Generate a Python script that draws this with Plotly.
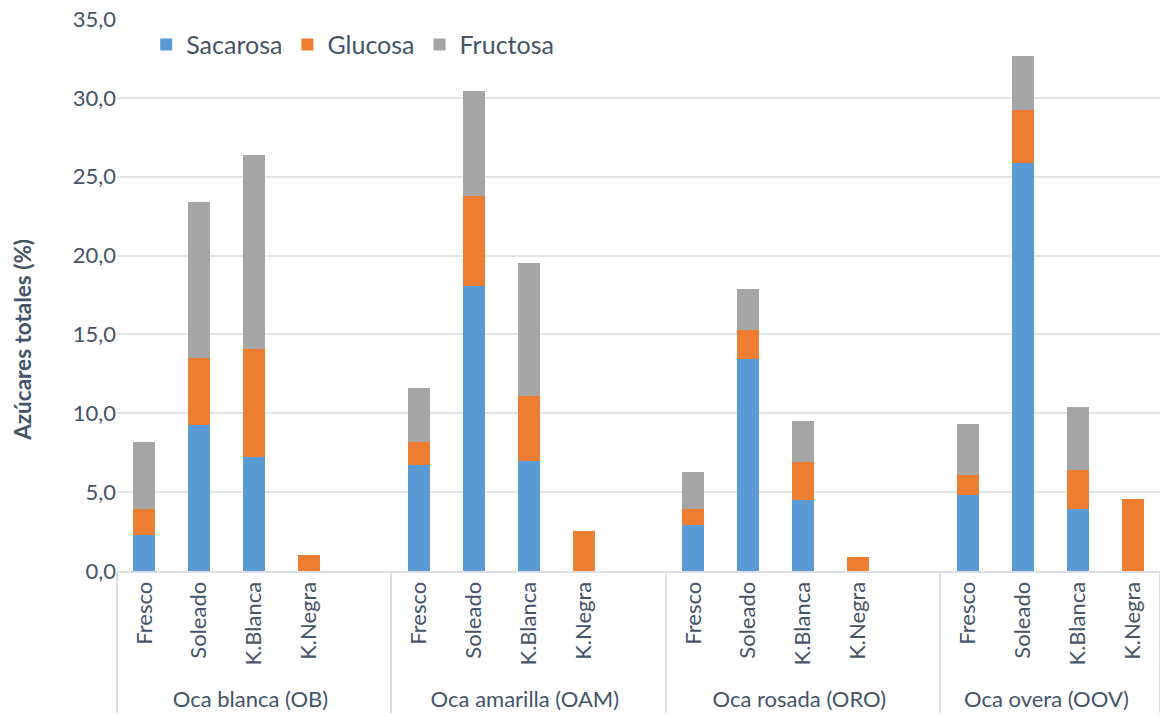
import plotly.graph_objects as go

# Variedades de oca y tratamientos
groups = ["Oca blanca (OB)", "Oca amarilla (OAM)", "Oca rosada (ORO)", "Oca overa (OOV)"]
treatments = ["Fresco", "Soleado", "K.Blanca", "K.Negra"]

# Azúcares (%) por variedad, en el orden de los tratamientos
sacarosa = [
    [2.3, 9.25, 7.2, 0.0],
    [6.7, 18.1, 7.0, 0.0],
    [2.9, 13.45, 4.5, 0.0],
    [4.8, 25.85, 3.9, 0.0],
]
glucosa = [
    [1.6, 4.25, 6.9, 1.0],
    [1.5, 5.7, 4.1, 2.55],
    [1.0, 1.8, 2.4, 0.9],
    [1.3, 3.4, 2.5, 4.55],
]
fructosa = [
    [4.25, 9.9, 12.3, 0.0],
    [3.4, 6.65, 8.4, 0.0],
    [2.4, 2.6, 2.6, 0.0],
    [3.2, 3.4, 4.0, 0.0],
]

y_ticks = [0, 5, 10, 15, 20, 25, 30, 35]

# Construcción del eje multicategoría (hueco vacío entre variedades)
x_outer, x_inner = [], []
def flatten(series):
    out = []
    for gi, g in enumerate(groups):
        for ti, t in enumerate(treatments):
            v = series[gi][ti]
            out.append(v if v > 0 else None)
        if gi < len(groups) - 1:
            out.append(None)
    return out

for gi, g in enumerate(groups):
    for t in treatments:
        x_outer.append(g)
        x_inner.append(t)
    if gi < len(groups) - 1:
        x_outer.append(g)
        x_inner.append(" ")

FONT = "Lato"
TXT = "#44546A"

fig = go.Figure()
for name, data, color in [
    ("Sacarosa", sacarosa, "#5B9BD5"),
    ("Glucosa", glucosa, "#ED7D31"),
    ("Fructosa", fructosa, "#A5A5A5"),
]:
    fig.add_trace(go.Bar(
        x=[x_outer, x_inner],
        y=flatten(data),
        name=name,
        marker=dict(color=color, line=dict(width=0)),
    ))

fig.update_layout(
    barmode="stack",
    bargap=0.6,
    width=1160,
    height=717,
    margin=dict(l=117, r=0, t=19, b=146),
    paper_bgcolor="white",
    plot_bgcolor="white",
    separators=",.",
    font=dict(family=FONT, color=TXT, size=21),
    legend=dict(
        orientation="h",
        x=0.028, y=0.995, xanchor="left", yanchor="top",
        font=dict(size=25, color=TXT, family=FONT),
        bgcolor="rgba(0,0,0,0)",
        itemwidth=30,
        traceorder="normal",
    ),
    showlegend=True,
    annotations=[dict(
        text="<b>Azúcares totales (%)</b>",
        xref="paper", yref="paper",
        x=-0.0905, y=0.418,
        xanchor="center", yanchor="middle",
        textangle=-90, showarrow=False,
        font=dict(size=22.5, color=TXT, family=FONT),
    )],
)

fig.update_yaxes(
    range=[0, 35],
    tickvals=y_ticks,
    tickformat=".1f",
    showgrid=True,
    gridcolor="#E1E5EA",
    gridwidth=2,
    zeroline=False,
    showline=False,
    ticks="",
    ticklen=0,
    tickfont=dict(size=22, color=TXT, family=FONT),
)
fig.update_xaxes(
    type="multicategory",
    tickangle=-90,
    tickfont=dict(size=22, color=TXT, family=FONT),
    showline=True,
    linecolor="#DCE0E6",
    linewidth=2,
    showdividers=True,
    dividercolor="#DCE0E6",
    dividerwidth=2,
    ticks="",
    showgrid=False,
)

fig.write_html("out.html")
